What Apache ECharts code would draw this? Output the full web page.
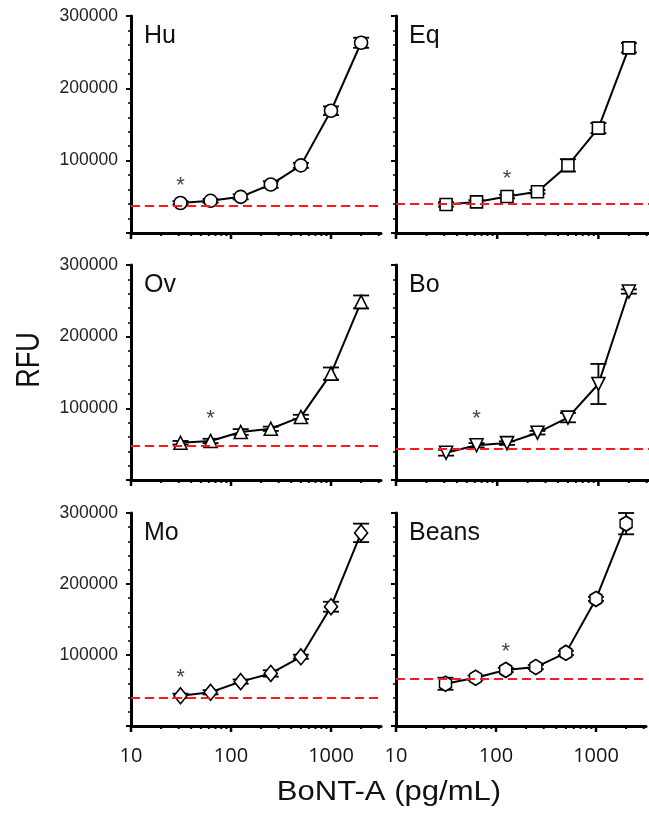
<!DOCTYPE html>
<html>
<head>
<meta charset="utf-8">
<script src="https://cdn.jsdelivr.net/npm/echarts@6/dist/echarts.min.js"></script>
<style>
  html, body { margin: 0; padding: 0; background: #fff; }
  #chart { width: 649px; height: 814px; }
</style>
</head>
<body>
<div id="chart"></div>
<script>
// BoNT-A dose (pg/mL)
const doses = [31.25, 62.5, 125, 250, 500, 1000, 2000];
const panelNames = ["Hu", "Eq", "Ov", "Bo", "Mo", "Beans"];

const huMean = [41500, 44500, 50000, 67000, 93500, 169000, 263000];
const huErr = [2500, 2500, 3500, 4500, 3500, 6000, 7000];
const eqMean = [39500, 43000, 50500, 57000, 93500, 145000, 256000];
const eqErr = [3000, 2500, 2500, 2500, 8500, 7000, 6500];
const ovMean = [52000, 54500, 67000, 71500, 88000, 148500, 248500];
const ovErr = [2500, 3000, 4000, 3000, 3000, 8500, 9000];
const boMean = [38000, 48500, 51500, 66000, 87000, 134000, 263000];
const boErr = [4000, 3000, 2500, 2500, 6500, 28000, 3000];
const moMean = [42500, 47500, 62500, 74000, 97500, 168000, 272000];
const moErr = [3000, 3000, 3000, 4500, 3000, 7000, 13000];
const beansMean = [59500, 68000, 79000, 83000, 103000, 179000, 285000];
const beansErr = [8500, 3000, 3000, 3000, 3000, 3000, 15000];

// red dashed cut-off line per panel
const cutoffs = [37000, 41000, 48000, 44000, 40000, 66500];
// asterisk positions
const starDose = [31.25, 125, 62.5, 62.5, 31.25, 125];
const starValue = [71500, 82000, 92000, 92000, 75000, 111500];

const xLabels = [10, 100, 1000];
const xMinorTicks = [20, 30, 40, 50, 60, 70, 80, 90, 200, 300, 400, 500, 600, 700, 800, 900, 2000, 3000];
const yLabels = [100000, 200000, 300000];

const means = [huMean, eqMean, ovMean, boMean, moMean, beansMean];
const errs = [huErr, eqErr, ovErr, boErr, moErr, beansErr];
const symbols = [
  "circle",
  "rect",
  "triangle",
  "triangle",
  "diamond",
  "path://M0,-10 L8.66,-5 L8.66,5 L0,10 L-8.66,5 L-8.66,-5 Z",
];
const symbolSizes = [13, 12, 13, 13, [13, 16], [12, 15]];
const symbolRotates = [0, 0, 0, 180, 0, 0];

const colLeft = [131, 396];
const colWidth = [250, 263];
const rowTop = [16, 265, 513];
const rowHeight = [217, 215, 213];

const chart = echarts.init(document.getElementById("chart"));

const grids = [];
const xAxes = [];
const yAxes = [];
const series = [];
const graphics = [];

panelNames.forEach((name, i) => {
  const col = i % 2;
  const row = Math.floor(i / 2);
  grids.push({
    left: colLeft[col],
    top: rowTop[row],
    width: colWidth[col],
    height: rowHeight[row],
  });
  xAxes.push({
    gridIndex: i,
    type: "log",
    logBase: 10,
    min: 10,
    max: Math.pow(10, 3.5),
    axisLine: { lineStyle: { color: "#000", width: 3 } },
    axisTick: { show: false },
    splitLine: { show: false },
    axisLabel: {
      show: row === 2,
      margin: 20,
      fontFamily: "Open Sans",
      fontSize: 20,
      color: "#111",
      formatter: (v) => (xLabels.includes(Math.round(v)) ? String(Math.round(v)) : ""),
    },
  });
  yAxes.push({
    gridIndex: i,
    type: "value",
    min: 0,
    max: 300000,
    interval: 100000,
    axisLine: { show: true, lineStyle: { color: "#000", width: 3 } },
    axisTick: { show: true, length: 5, lineStyle: { color: "#000", width: 2 } },
    minorTick: { show: true, splitNumber: 5, length: 3, lineStyle: { color: "#000", width: 1.5 } },
    splitLine: { show: false },
    axisLabel: {
      show: col === 0,
      margin: 13,
      fontFamily: "Liberation Sans",
      fontSize: 17.5,
      color: "#222",
      formatter: (v) => (yLabels.includes(v) ? String(v) : ""),
    },
  });

  // error bars
  series.push({
    type: "custom",
    xAxisIndex: i,
    yAxisIndex: i,
    z: 2,
    silent: true,
    data: doses.map((d, k) => [d, means[i][k], errs[i][k]]),
    encode: { x: 0, y: 1 },
    renderItem: (params, api) => {
      const x = api.value(0);
      const m = api.value(1);
      const e = api.value(2);
      const top = api.coord([x, m + e]);
      const bot = api.coord([x, m - e]);
      const hw = 8;
      const st = { stroke: "#000", lineWidth: 1.8 };
      return {
        type: "group",
        children: [
          { type: "line", shape: { x1: top[0], y1: top[1], x2: bot[0], y2: bot[1] }, style: st },
          { type: "line", shape: { x1: top[0] - hw, y1: top[1], x2: top[0] + hw, y2: top[1] }, style: st },
          { type: "line", shape: { x1: bot[0] - hw, y1: bot[1], x2: bot[0] + hw, y2: bot[1] }, style: st },
        ],
      };
    },
  });

  // x axis ticks (log decades + minor)
  series.push({
    type: "custom",
    xAxisIndex: i,
    yAxisIndex: i,
    z: 3,
    silent: true,
    data: xLabels.concat(xMinorTicks).map((v) => [v, 0]),
    renderItem: (params, api) => {
      const v = api.value(0);
      const p = api.coord([v, 0]);
      const len = xLabels.includes(v) ? 6 : 3;
      return {
        type: "line",
        shape: { x1: p[0], y1: p[1], x2: p[0], y2: p[1] + len },
        style: { stroke: "#000", lineWidth: xLabels.includes(v) ? 2.5 : 2 },
      };
    },
  });

  // main curve
  series.push({
    type: "line",
    xAxisIndex: i,
    yAxisIndex: i,
    z: 4,
    data: doses.map((d, k) => [d, means[i][k]]),
    symbol: symbols[i],
    symbolSize: symbolSizes[i],
    symbolRotate: symbolRotates[i],
    showAllSymbol: true,
    lineStyle: { color: "#000", width: 2 },
    itemStyle: { color: "#fff", borderColor: "#000", borderWidth: 1.6 },
    markLine: {
      silent: true,
      symbol: "none",
      label: { show: false },
      lineStyle: { color: "#ff1a1a", type: [9, 5], width: 2 },
      data: [{ yAxis: cutoffs[i] }],
    },
  });

  // asterisk
  series.push({
    type: "scatter",
    xAxisIndex: i,
    yAxisIndex: i,
    z: 5,
    silent: true,
    symbolSize: 0,
    data: [[starDose[i], starValue[i]]],
    label: {
      show: true,
      position: "inside",
      formatter: "*",
      fontFamily: "Liberation Sans",
      fontSize: 22,
      color: "#111",
      offset: [0, 5],
    },
  });

  graphics.push({
    type: "text",
    left: colLeft[col] + 13,
    top: rowTop[row] + 8,
    style: {
      text: name,
      fontFamily: "Liberation Sans",
      fontSize: 25,
      fill: "#111",
    },
  });
});

graphics.push({
  type: "text",
  x: 389,
  y: 793,
  scaleX: 1.15,
  style: {
    text: "BoNT-A (pg/mL)",
    fontFamily: "Liberation Sans",
    fontSize: 27,
    fill: "#111",
    align: "center",
    verticalAlign: "middle",
  },
});
graphics.push({
  type: "text",
  x: 30,
  y: 360,
  rotation: Math.PI / 2,
  scaleX: 0.82,
  style: {
    text: "RFU",
    fontFamily: "Liberation Sans",
    fontSize: 33,
    fill: "#111",
    align: "center",
    verticalAlign: "middle",
  },
});

chart.setOption({
  animation: false,
  grid: grids,
  xAxis: xAxes,
  yAxis: yAxes,
  series: series,
  graphic: graphics,
});
</script>
</body>
</html>
